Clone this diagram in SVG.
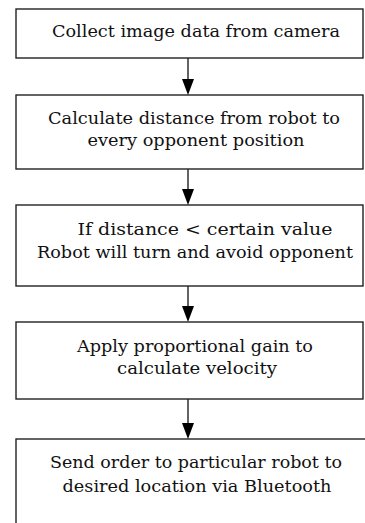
<svg xmlns="http://www.w3.org/2000/svg" width="365" height="523" viewBox="0 0 365 523">
<defs>
<style>
.box{fill:#fff;stroke:#222;stroke-width:1.4}
.t{font-family:'DejaVu Serif','Liberation Serif',serif;font-size:16px;fill:#111;text-anchor:middle}
.c{stroke:#222;stroke-width:1.4;fill:none}
.h{fill:#000}
</style>
</defs>
<rect width="365" height="523" fill="#fff"/>
<g id="n1"><rect class="box" x="16" y="9" width="347" height="49"/>
<text class="t" x="196" y="37" textLength="288" lengthAdjust="spacingAndGlyphs">Collect image data from camera</text></g>
<g id="n2"><rect class="box" x="16" y="95" width="347" height="74"/>
<text class="t" x="194" y="124" textLength="292" lengthAdjust="spacingAndGlyphs">Calculate distance from robot to</text>
<text class="t" x="196" y="146" textLength="217" lengthAdjust="spacingAndGlyphs">every opponent position</text></g>
<g id="n3"><rect class="box" x="16" y="205" width="347" height="81"/>
<text class="t" x="205" y="235" textLength="255" lengthAdjust="spacingAndGlyphs">If distance &lt; certain value</text>
<text class="t" x="195" y="258" textLength="316" lengthAdjust="spacingAndGlyphs">Robot will turn and avoid opponent</text></g>
<g id="n4"><rect class="box" x="16" y="322" width="347" height="77"/>
<text class="t" x="195" y="352" textLength="236" lengthAdjust="spacingAndGlyphs">Apply proportional gain to</text>
<text class="t" x="197" y="374" textLength="160" lengthAdjust="spacingAndGlyphs">calculate velocity</text></g>
<g id="n5"><rect class="box" x="16" y="439" width="360" height="100"/>
<text class="t" x="196" y="468" textLength="292" lengthAdjust="spacingAndGlyphs">Send order to particular robot to</text>
<text class="t" x="197" y="492" textLength="269" lengthAdjust="spacingAndGlyphs">desired location via Bluetooth</text></g>
<g id="connectors">
<line class="c" x1="188" y1="58" x2="188" y2="80"/><polygon class="h" points="182,79 194,79 188,95"/>
<line class="c" x1="188" y1="169" x2="188" y2="190"/><polygon class="h" points="182,189 194,189 188,205"/>
<line class="c" x1="188" y1="286" x2="188" y2="307"/><polygon class="h" points="182,306 194,306 188,322"/>
<line class="c" x1="188" y1="399" x2="188" y2="424"/><polygon class="h" points="182,423 194,423 188,439"/>
</g>
</svg>
